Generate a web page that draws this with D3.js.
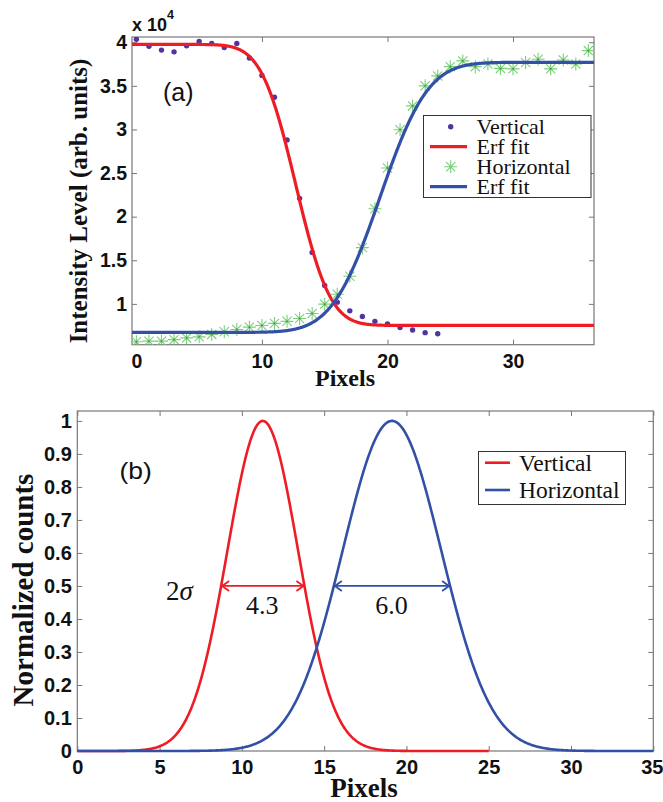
<!DOCTYPE html>
<html>
<head>
<meta charset="utf-8">
<script src="https://cdn.jsdelivr.net/npm/d3@7"></script>
<style>
  html, body { margin: 0; padding: 0; background: #fff; }
  svg { display: block; }
  .tick text { font-family: "Liberation Sans", Arial, sans-serif; font-weight: bold; fill: #111; }
</style>
</head>
<body>
<svg id="chart" width="663" height="802"></svg>
<script>
// ---------- Panel (a): edge profiles ----------
// Vertical profile samples at pixel 0..24 (intensity, arb. units)
const verticalCounts = [40340, 39540, 39100, 38900, 39600, 40100, 39850, 39400, 39850, 38200,
  36200, 33700, 28800, 22100, 15900, 12100, 10200, 9200, 8560, 8000,
  7700, 7300, 7000, 6700, 6570];
// Horizontal profile samples at pixel 0..36
const horizontalCounts = [5650, 5730, 5730, 5900, 6100, 6220, 6500, 6800, 7070, 7330,
  7530, 7760, 8000, 8330, 8900, 9970, 11100, 13170, 16450, 20900,
  25580, 29970, 32700, 35000, 36140, 37200, 37860, 37200, 37500, 37000,
  36950, 37670, 38050, 36950, 37970, 37500, 39040];
// Error-function fit parameters: [low level, high level, centre (px), sigma (px)]
const verticalFit = [7530, 39750, 12.7, 2.15];
const horizontalFit = [6730, 37700, 19.4, 3.0];
const aXTicks = [0, 10, 20, 30];
const aYTicks = [10000, 15000, 20000, 25000, 30000, 35000, 40000];

// ---------- Panel (b): line-spread functions ----------
const seriesNames = ["Vertical", "Horizontal"];
const widthLabels = [4.3, 6.0];          // 2 sigma (px)
const peakCentres = [11.27, 19.12];      // px
const curveExtent = [[0, 25], [0, 35]];  // pixel range drawn for each curve
const bXTicks = [0, 5, 10, 15, 20, 25, 30, 35];
const bYTicks = [0, 0.1, 0.2, 0.3, 0.4, 0.5, 0.6, 0.7, 0.8, 0.9, 1];

const RED = "#ee1d25", BLUE = "#3250a6", PURPLE = "#53339e", GREEN = "#7ccf7c", FRAME = "#777";
const serif = '"Liberation Serif", "Times New Roman", serif';
const sans = '"Liberation Sans", Arial, sans-serif';

function erf(x) {
  const s = Math.sign(x); x = Math.abs(x);
  const t = 1 / (1 + 0.3275911 * x);
  const y = 1 - (((((1.061405429 * t - 1.453152027) * t) + 1.421413741) * t - 0.284496736) * t + 0.254829592) * t * Math.exp(-x * x);
  return s * y;
}
const erfModel = ([lo, hi, c, s], rising) => x => {
  const e = erf((x - c) / (Math.SQRT2 * s));
  return rising ? lo + (hi - lo) * (1 + e) / 2 : lo + (hi - lo) * (1 - e) / 2;
};
const gaussModel = (c, s) => x => Math.exp(-((x - c) ** 2) / (2 * s * s));

const svg = d3.select("#chart");

function styleAxis(g, showLabels, size) {
  g.select(".domain").remove();
  g.selectAll(".tick line").attr("stroke", FRAME).attr("stroke-width", 1);
  g.selectAll(".tick text").style("font-size", size + "px");
  if (!showLabels) g.selectAll(".tick text").remove();
}

// ================= Panel (a) =================
const A = { l: 132, r: 594, t: 37, b: 344.7 };
const xa = d3.scaleLinear().domain([-0.35, 36.45]).range([A.l, A.r]);
const ya = d3.scaleLinear().domain([5320, 40600]).range([A.b, A.t]);
const ga = svg.append("g");

ga.append("clipPath").attr("id", "clipA").append("rect")
  .attr("x", A.l).attr("y", A.t).attr("width", A.r - A.l).attr("height", A.b - A.t);

ga.append("g").attr("transform", `translate(0,${A.b})`)
  .call(d3.axisBottom(xa).tickValues(aXTicks).tickSize(-5).tickPadding(9).tickFormat(d3.format("d")))
  .call(g => styleAxis(g, true, 19.5));
ga.append("g").attr("transform", `translate(0,${A.t})`)
  .call(d3.axisTop(xa).tickValues(aXTicks).tickSize(-5))
  .call(g => styleAxis(g, false, 19.5));
ga.append("g").attr("transform", `translate(${A.l},0)`)
  .call(d3.axisLeft(ya).tickValues(aYTicks).tickSize(-5).tickPadding(5).tickFormat(d => d3.format("")(d / 10000)))
  .call(g => styleAxis(g, true, 19.5));
ga.append("g").attr("transform", `translate(${A.r},0)`)
  .call(d3.axisRight(ya).tickValues(aYTicks).tickSize(-5))
  .call(g => styleAxis(g, false, 19.5));
ga.append("rect").attr("x", A.l).attr("y", A.t).attr("width", A.r - A.l).attr("height", A.b - A.t)
  .attr("fill", "none").attr("stroke", FRAME).attr("stroke-width", 1.2);

const plotA = ga.append("g").attr("clip-path", "url(#clipA)");
const starPath = "M-6.5,0H6.5M0,-6.5V6.5M-4.6,-4.6L4.6,4.6M-4.6,4.6L4.6,-4.6";

// vertical profile dots
plotA.selectAll("circle.v").data(verticalCounts).join("circle").attr("class", "v")
  .attr("cx", (d, i) => xa(i)).attr("cy", d => ya(d)).attr("r", 2.7).attr("fill", PURPLE);

const fitX = d3.range(xa.domain()[0], xa.domain()[1] + 0.05, 0.05);
const lineA = d3.line().x(d => xa(d[0])).y(d => ya(d[1]));
const fV = erfModel(verticalFit, false), fH = erfModel(horizontalFit, true);
plotA.append("path").datum(fitX.map(x => [x, fV(x)])).attr("d", lineA)
  .attr("fill", "none").attr("stroke", RED).attr("stroke-width", 3.2);

// horizontal profile stars
plotA.selectAll("g.h").data(horizontalCounts).join("g").attr("class", "h")
  .attr("transform", (d, i) => `translate(${xa(i)},${ya(d)})`)
  .call(g => g.append("path").attr("d", starPath).attr("stroke", GREEN).attr("stroke-width", 1.1).attr("fill", "none"))
  .call(g => g.append("circle").attr("r", 0.9).attr("fill", "#3f9a3f"));

plotA.append("path").datum(fitX.map(x => [x, fH(x)])).attr("d", lineA)
  .attr("fill", "none").attr("stroke", BLUE).attr("stroke-width", 3.2);

// multiplier label
const mult = ga.append("text").attr("x", 132).attr("y", 31)
  .attr("font-family", sans).attr("font-weight", "bold").attr("font-size", 18).attr("fill", "#111");
mult.append("tspan").text("x 10");
mult.append("tspan").attr("dy", -12).attr("font-size", 12.5).text("4");

ga.append("text").attr("x", 163).attr("y", 101).attr("font-family", sans).attr("font-size", 25)
  .attr("fill", "#111").text("(a)");

ga.append("text").attr("x", 345).attr("y", 386).attr("text-anchor", "middle")
  .attr("font-family", serif).attr("font-weight", "bold").attr("font-size", 24).attr("fill", "#111").text("Pixels");
ga.append("text").attr("transform", `translate(87,201) rotate(-90)`).attr("text-anchor", "middle")
  .attr("font-family", serif).attr("font-weight", "bold").attr("font-size", 25).attr("fill", "#111")
  .text("Intensity Level (arb. units)");

// legend (a)
const la = ga.append("g");
la.append("rect").attr("x", 423.5).attr("y", 115.5).attr("width", 167.5).attr("height", 82)
  .attr("fill", "#fff").attr("stroke", "#333").attr("stroke-width", 1);
const legA = [
  { label: "Vertical", kind: "dot", color: PURPLE },
  { label: "Erf fit", kind: "line", color: RED },
  { label: "Horizontal", kind: "star", color: GREEN },
  { label: "Erf fit", kind: "line", color: BLUE }
];
legA.forEach((e, i) => {
  const cy = 126.7 + i * 20;
  if (e.kind === "dot") la.append("circle").attr("cx", 450.7).attr("cy", cy).attr("r", 2.7).attr("fill", e.color);
  if (e.kind === "line") la.append("line").attr("x1", 430).attr("x2", 467).attr("y1", cy).attr("y2", cy)
    .attr("stroke", e.color).attr("stroke-width", 3.2);
  if (e.kind === "star") la.append("path").attr("transform", `translate(450.7,${cy})`).attr("d", starPath)
    .attr("stroke", e.color).attr("stroke-width", 1.1).attr("fill", "none");
  la.append("text").attr("x", 476.5).attr("y", cy + 7).attr("font-family", serif).attr("font-size", 22)
    .attr("fill", "#111").text(e.label);
});

// ================= Panel (b) =================
const B = { l: 77.3, r: 653.3, t: 411, b: 751 };
const xb = d3.scaleLinear().domain([0, 35]).range([B.l, B.r]);
const yb = d3.scaleLinear().domain([0, 1.03]).range([B.b, B.t]);
const gb = svg.append("g");

gb.append("g").attr("transform", `translate(0,${B.b})`)
  .call(d3.axisBottom(xb).tickValues(bXTicks).tickSize(-5).tickPadding(9).tickFormat(d3.format("d")))
  .call(g => styleAxis(g, true, 20))
  .call(g => g.selectAll(".tick text").filter(d => d === 35).attr("x", -1.5));
gb.append("g").attr("transform", `translate(0,${B.t})`)
  .call(d3.axisTop(xb).tickValues(bXTicks).tickSize(-5))
  .call(g => styleAxis(g, false, 20));
gb.append("g").attr("transform", `translate(${B.l},0)`)
  .call(d3.axisLeft(yb).tickValues(bYTicks).tickSize(-5).tickPadding(5.5).tickFormat(d => d3.format("")(+d.toFixed(1))))
  .call(g => styleAxis(g, true, 20));
gb.append("g").attr("transform", `translate(${B.r},0)`)
  .call(d3.axisRight(yb).tickValues(bYTicks).tickSize(-5))
  .call(g => styleAxis(g, false, 20));
gb.append("rect").attr("x", B.l).attr("y", B.t).attr("width", B.r - B.l).attr("height", B.b - B.t)
  .attr("fill", "none").attr("stroke", FRAME).attr("stroke-width", 1.2);

const lineB = d3.line().x(d => xb(d[0])).y(d => yb(d[1]));
const colorsB = [RED, BLUE];
seriesNames.forEach((name, i) => {
  const f = gaussModel(peakCentres[i], widthLabels[i] / 2);
  const xs = d3.range(curveExtent[i][0], curveExtent[i][1] + 0.001, 0.05);
  gb.append("path").datum(xs.map(x => [x, f(x)])).attr("d", lineB)
    .attr("fill", "none").attr("stroke", colorsB[i]).attr("stroke-width", 2.6);
});

// full-width-at-half-maximum arrows
seriesNames.forEach((name, i) => {
  const half = Math.sqrt(2 * Math.LN2) * widthLabels[i] / 2;
  const x1 = xb(peakCentres[i] - half), x2 = xb(peakCentres[i] + half), y = yb(0.5);
  const c = colorsB[i];
  const g = gb.append("g").attr("stroke", c).attr("stroke-width", 1.8).attr("fill", "none");
  g.append("line").attr("x1", x1).attr("x2", x2).attr("y1", y).attr("y2", y);
  g.append("path").attr("d", `M${x1 + 8},${y - 5}L${x1 + 1},${y}L${x1 + 8},${y + 5}`);
  g.append("path").attr("d", `M${x2 - 8},${y - 5}L${x2 - 1},${y}L${x2 - 8},${y + 5}`);
  gb.append("text").attr("x", (x1 + x2) / 2 - 0.5).attr("y", 614).attr("text-anchor", "middle")
    .attr("font-family", serif).attr("font-size", 26).attr("fill", "#111").text(widthLabels[i].toFixed(1));
});

const sig = gb.append("text").attr("x", 166).attr("y", 600).attr("font-family", serif).attr("font-size", 27).attr("fill", "#111");
sig.append("tspan").text("2");
sig.append("tspan").attr("font-style", "italic").text("σ");

gb.append("text").attr("x", 120).attr("y", 479).attr("font-family", sans).attr("font-size", 23)
  .attr("fill", "#111").attr("transform", "translate(-18.5,0) scale(1.15,1)").text("(b)");

gb.append("text").attr("x", 364).attr("y", 797).attr("text-anchor", "middle")
  .attr("font-family", serif).attr("font-weight", "bold").attr("font-size", 27).attr("fill", "#111").text("Pixels");
gb.append("text").attr("transform", `translate(33,590) rotate(-90)`).attr("text-anchor", "middle")
  .attr("font-family", serif).attr("font-weight", "bold").attr("font-size", 29).attr("fill", "#111")
  .text("Normalized counts");

// legend (b)
const lb = gb.append("g");
lb.append("rect").attr("x", 478.5).attr("y", 451.5).attr("width", 147).attr("height", 53)
  .attr("fill", "#fff").attr("stroke", "#333").attr("stroke-width", 1);
seriesNames.forEach((name, i) => {
  const cy = 462.7 + i * 27.3;
  lb.append("line").attr("x1", 485).attr("x2", 510).attr("y1", cy).attr("y2", cy)
    .attr("stroke", colorsB[i]).attr("stroke-width", 2.6);
  lb.append("text").attr("x", 519).attr("y", cy + 8).attr("font-family", serif).attr("font-size", 23.5)
    .attr("fill", "#111").text(name);
});
</script>
</body>
</html>
